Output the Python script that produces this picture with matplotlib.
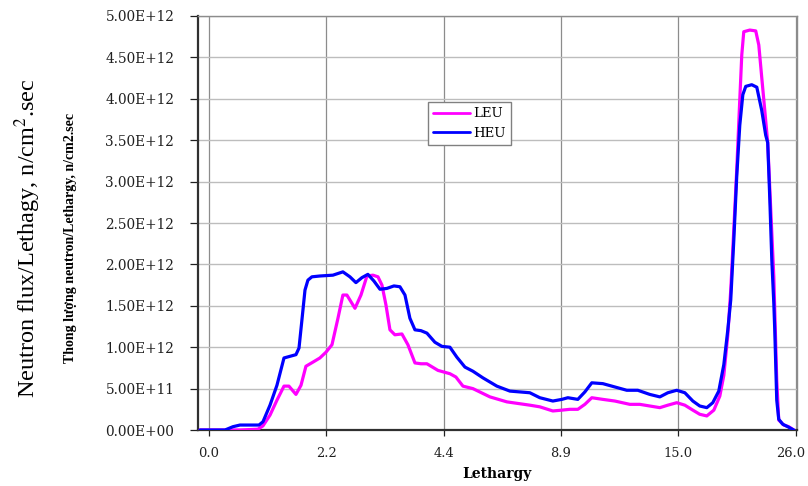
import matplotlib
matplotlib.use("Agg")
import matplotlib.pyplot as plt
import matplotlib.transforms as mtransforms
import numpy as np

# Category axis: tick labels sit at equally spaced positions 0..5
tick_labels = ["0.0", "2.2", "4.4", "8.9", "15.0", "26.0"]

heu_x = [-0.077, 0.136, 0.204, 0.264, 0.426, 0.46, 0.52, 0.579, 0.639, 0.69, 0.741, 0.767,
         0.792, 0.818, 0.843, 0.877, 0.945, 1.056, 1.141, 1.201, 1.252, 1.303, 1.354, 1.405,
         1.457, 1.516, 1.576, 1.627, 1.67, 1.712, 1.755, 1.806, 1.857, 1.925, 1.985, 2.053,
         2.112, 2.181, 2.249, 2.334, 2.453, 2.564, 2.734, 2.819, 2.930, 3.007, 3.058, 3.143,
         3.203, 3.262, 3.356, 3.458, 3.560, 3.654, 3.756, 3.842, 3.910, 3.986, 4.055, 4.123,
         4.182, 4.242, 4.293, 4.344, 4.387, 4.421, 4.446, 4.472, 4.497, 4.523, 4.549, 4.574,
         4.625, 4.668, 4.71, 4.744, 4.761, 4.779, 4.796, 4.813, 4.821, 4.838, 4.855, 4.889,
         4.932, 4.983]
heu_y = [0, 0, 0.04, 0.06, 0.06, 0.10, 0.30, 0.54, 0.87, 0.89, 0.91, 0.99,
         1.33, 1.69, 1.81, 1.85, 1.86, 1.87, 1.91, 1.85, 1.78, 1.84, 1.88, 1.80,
         1.70, 1.71, 1.74, 1.73, 1.63, 1.35, 1.21, 1.20, 1.17, 1.06, 1.01, 1.00,
         0.88, 0.76, 0.71, 0.63, 0.53, 0.47, 0.45, 0.39, 0.35, 0.37, 0.39, 0.37,
         0.46, 0.57, 0.56, 0.52, 0.48, 0.48, 0.43, 0.40, 0.45, 0.48, 0.45, 0.35,
         0.29, 0.27, 0.33, 0.47, 0.79, 1.21, 1.57, 2.29, 3.06, 3.68, 4.05, 4.15,
         4.17, 4.14, 3.86, 3.56, 3.47, 2.78, 2.05, 1.53, 1.21, 0.36, 0.13, 0.07,
         0.04, 0]

leu_x = [-0.077, 0.264, 0.417, 0.46, 0.52, 0.579, 0.639, 0.681, 0.741, 0.784, 0.826, 0.886,
         0.945, 0.997, 1.048, 1.099, 1.141, 1.175, 1.244, 1.295, 1.346, 1.397, 1.44, 1.474,
         1.508, 1.542, 1.584, 1.644, 1.695, 1.755, 1.806, 1.857, 1.951, 2.053, 2.104, 2.164,
         2.249, 2.394, 2.538, 2.734, 2.819, 2.930, 3.007, 3.075, 3.143, 3.203, 3.262, 3.356,
         3.458, 3.586, 3.671, 3.756, 3.842, 3.910, 3.986, 4.055, 4.123, 4.182, 4.242, 4.302,
         4.353, 4.387, 4.421, 4.446, 4.472, 4.497, 4.523, 4.540, 4.557, 4.608, 4.659, 4.685,
         4.710, 4.736, 4.761, 4.787, 4.813, 4.838, 4.855, 4.898, 4.940, 4.983]
leu_y = [0, 0, 0.01, 0.05, 0.18, 0.36, 0.53, 0.53, 0.43, 0.54, 0.77, 0.82,
         0.87, 0.94, 1.03, 1.35, 1.63, 1.63, 1.47, 1.63, 1.86, 1.87, 1.85, 1.75,
         1.51, 1.21, 1.15, 1.16, 1.03, 0.81, 0.80, 0.80, 0.72, 0.68, 0.64, 0.53,
         0.50, 0.40, 0.34, 0.30, 0.28, 0.23, 0.24, 0.25, 0.25, 0.31, 0.39, 0.37,
         0.35, 0.31, 0.31, 0.29, 0.27, 0.30, 0.33, 0.30, 0.24, 0.19, 0.17, 0.24,
         0.41, 0.66, 1.15, 1.69, 2.42, 3.14, 3.99, 4.53, 4.81, 4.83, 4.82, 4.65,
         4.26, 3.86, 3.47, 2.66, 1.85, 0.60, 0.12, 0.06, 0.04, 0]

yticks = np.arange(0, 5.01e12, 0.5e12)

fig = plt.figure(figsize=(8.08, 4.86), dpi=100)
ax = fig.add_axes([0.245, 0.1152, 0.7413, 0.8519])

ax.plot(leu_x, np.array(leu_y) * 1e12, color="#FF00FF", lw=2.3, label="LEU",
        solid_joinstyle="round", solid_capstyle="round", zorder=3)
ax.plot(heu_x, np.array(heu_y) * 1e12, color="#0000FF", lw=2.3, label="HEU",
        solid_joinstyle="round", solid_capstyle="round", zorder=4)

ax.set_xlim(-0.094, 5.01)
ax.set_ylim(0, 5e12)
ax.set_xticks(range(len(tick_labels)))
ax.set_xticklabels(tick_labels)
ax.set_yticks(yticks)
ax.set_yticklabels(["%.2E" % v for v in yticks])

ax.grid(True, axis="y", color="#bdbdbd", lw=1.0)
ax.grid(True, axis="x", color="#8c8c8c", lw=0.9)
ax.set_axisbelow(True)

for s in ["top", "right"]:
    ax.spines[s].set_color("#8c8c8c")
    ax.spines[s].set_linewidth(1.0)
for s in ["left", "bottom"]:
    ax.spines[s].set_color("#303030")
    ax.spines[s].set_linewidth(1.6)

ax.tick_params(axis="y", direction="out", length=6, width=0.9, pad=11, colors="#202020")
ax.tick_params(axis="x", direction="out", length=4, width=0.9, pad=8, colors="#202020")
for lab in ax.get_yticklabels():
    lab.set_fontfamily("DejaVu Serif")
    lab.set_fontsize(9.8)
xlabs = ax.get_xticklabels()
for lab in xlabs:
    lab.set_fontfamily("DejaVu Serif")
    lab.set_fontsize(9.4)
# nudge the last label so it stays inside the canvas
xlabs[-1].set_transform(xlabs[-1].get_transform() +
                        mtransforms.ScaledTranslation(-4 / 72, 0, fig.dpi_scale_trans))

ax.set_xlabel("Lethargy", family="DejaVu Serif", weight="bold", fontsize=10, labelpad=5)

fig.text(0.034, 0.51, "Neutron flux/Lethagy, n/cm$^2$.sec", rotation=90,
         family="Liberation Serif", fontsize=17.5, ha="center", va="center",
         math_fontfamily="stix")
fig.text(0.087, 0.51, "Thong lượng neutron/Lethargy, n/cm2.sec", rotation=90,
         family="Liberation Serif", weight="bold", fontsize=10, ha="center", va="center")

leg = ax.legend(loc="upper left", bbox_to_anchor=(0.384, 0.792), borderaxespad=0,
                frameon=True, fancybox=False, framealpha=1, edgecolor="#808080",
                prop=dict(family="DejaVu Serif", size=9.5), handlelength=2.8,
                handletextpad=0.2, borderpad=0.4, labelspacing=0.5)
leg.get_frame().set_linewidth(1.0)
for l in leg.get_lines():
    l.set_linewidth(2.0)

fig.savefig("out.png", dpi=100)
